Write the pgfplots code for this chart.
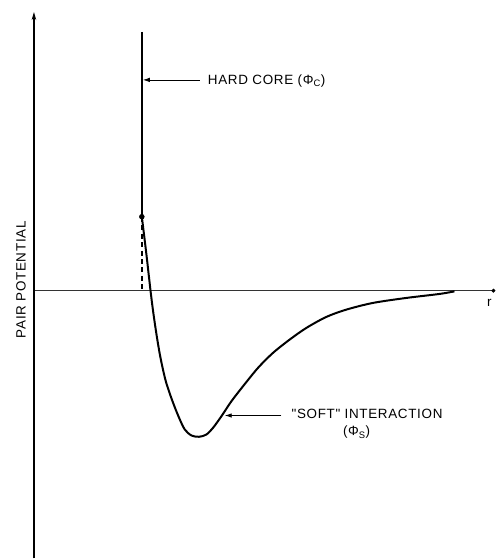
\documentclass[border=0pt]{standalone}
\usepackage{fontspec}
\setmainfont{Liberation Sans}[LetterSpace=5, Ligatures=TeXOff]
\usepackage{pgfplots}
\pgfplotsset{compat=1.18}
\usepackage{pgfplotstable}
\usetikzlibrary{arrows.meta}

% soft part of the pair potential (arbitrary units)
\pgfplotstableread{
r      phi
108.0   74.0
112.5   37.0
116.7    0.0
119.3  -20.7
122.7  -44.0
126.7  -67.3
132.0  -90.7
138.7 -110.7
145.3 -127.3
151.0 -139.0
157.7 -145.0
165.3 -146.3
172.7 -144.0
179.3 -137.3
187.7 -125.7
197.7 -110.7
209.3  -95.7
224.3  -77.3
239.3  -62.3
256.0  -49.0
272.7  -37.3
292.7  -26.3
312.7  -19.0
339.3  -12.3
372.7   -7.3
406.0   -3.3
421.0   -0.7
}\softpart

\begin{document}
\begin{tikzpicture}
\begin{axis}[
    width=460bp, height=547bp,
    scale only axis,
    xmin=0, xmax=460,
    ymin=-268, ymax=279,
    axis lines=middle,
    x axis line style={-, line width=1pt, black!80},
    y axis line style={-{Stealth[length=8pt,width=4.5pt]}, line width=1.3pt},
    xtick=\empty, ytick=\empty,
    clip=false,
    font=\fontsize{13.5}{16}\selectfont,
]
% hard core
\addplot[line width=1.7pt] coordinates {(108,259) (108,74)};
\addplot[line width=1.5pt, dash pattern=on 5pt off 3.5pt] coordinates {(108,74) (108,0)};
% soft interaction
\addplot[line width=2pt, smooth] table[x=r, y=phi] {\softpart};
% dots
\addplot[only marks, mark=*, mark size=2.5pt] coordinates {(108,74)};
\addplot[only marks, mark=*, mark size=1.8pt] coordinates {(460,0)};

% annotations
\draw[-{Latex[length=7pt,width=4.5pt]}, line width=0.8pt] (axis cs:166,211) -- (axis cs:109,211);
\node[anchor=west, inner sep=0pt] at (axis cs:174,210) {HARD CORE (Φ\textsubscript{C})};
\draw[-{Latex[length=7pt,width=4.5pt]}, line width=0.8pt] (axis cs:247.7,-125) -- (axis cs:191,-125);
\node[anchor=west, inner sep=0pt] at (axis cs:257.7,-123) {"SOFT" INTERACTION};
\node[inner sep=0pt] at (axis cs:323,-142) {(Φ\textsubscript{S})};
\node[inner sep=0pt] at (axis cs:456,-12) {r};
\node[rotate=90, inner sep=0pt] at (axis cs:-13,11) {PAIR POTENTIAL};

\path (axis cs:-34,-268) rectangle (axis cs:462,291);
\end{axis}
\end{tikzpicture}
\end{document}
